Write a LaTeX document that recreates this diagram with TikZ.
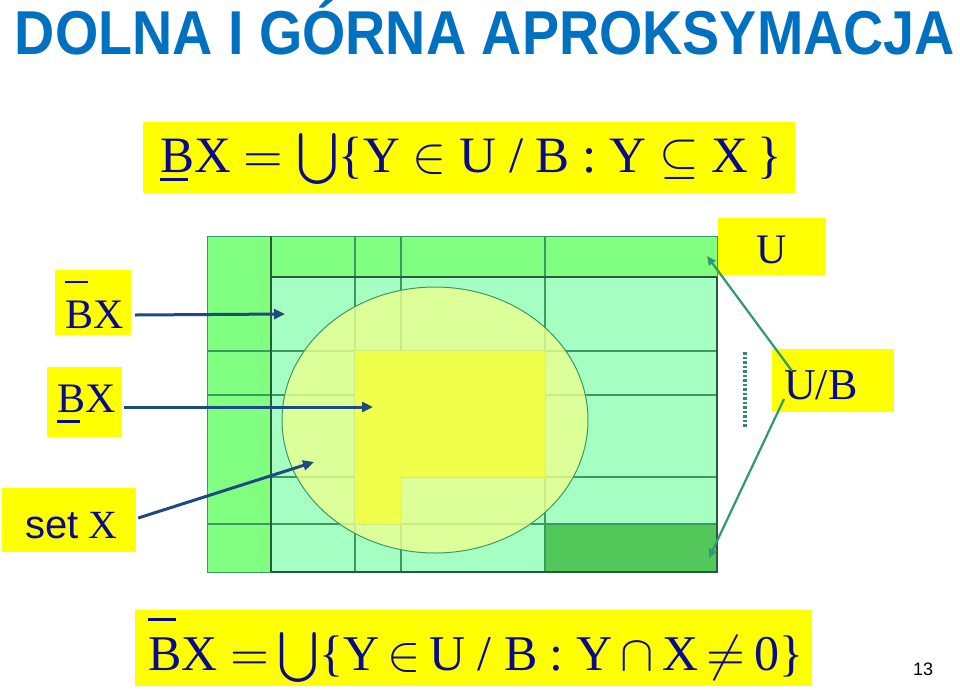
\documentclass[tikz,border=0pt]{standalone}
\usepackage{fontspec}
\setmainfont{Liberation Serif}
\newfontfamily\arialf{Liberation Sans}
\usepackage{graphicx}
\usetikzlibrary{arrows.meta}
\definecolor{navy}{HTML}{0A0A8C}
\definecolor{titleblue}{HTML}{0070C0}
\definecolor{arrblue}{HTML}{1F4A80}
\definecolor{arrgreen}{HTML}{2E9A6E}
\definecolor{ygl}{HTML}{FFFF00}
\definecolor{gbright}{HTML}{80FF80}
\definecolor{gmint}{HTML}{A5FFC2}
\definecolor{gdark}{HTML}{52C85A}
\definecolor{gline}{HTML}{3A9A60}
\definecolor{gborder}{HTML}{2A5A3A}
\definecolor{ellfill}{HTML}{EAFF90}
\definecolor{yelreg}{HTML}{F2FF45}
\definecolor{dotteal}{HTML}{2F8A7A}
\newcommand\myub[1]{\leavevmode\rlap{\raisebox{-#1}{\rule{0.55em}{0.06em}}}B}
\newcommand\myob[1]{\leavevmode\rlap{\raisebox{#1}{\rule{0.55em}{0.06em}}}B}
\newcommand\msym[2]{\scalebox{#1}{\fontsize{10}{12}\selectfont$#2$}}
\tikzset{
  ybox/.style={fill=ygl, draw=none, inner sep=0pt},
  ftext/.style={inner sep=0pt, anchor=base west, text=navy},
  barrow/.style={draw=arrblue, line width=3pt, -{Triangle[length=11pt,width=10pt]}},
  garrow/.style={draw=arrgreen, line width=2.2pt, -{Triangle[length=9pt,width=8pt]}},
  gridln/.style={draw=gline, line width=1.1pt},
}
\begin{document}
\begin{tikzpicture}[x=1pt,y=-1pt]
\useasboundingbox (0,0) rectangle (960,689);
% title
\node[inner sep=0pt, anchor=base, text=titleblue] (title) at (485,54)
  {\resizebox{940pt}{\height}{\fontsize{62}{66}\selectfont\arialf\bfseries DOLNA I GÓRNA APROKSYMACJA}};
% top formula
\node[ybox, minimum width=652pt, minimum height=71pt] (lowbox) at (469,157.5) {};
\node[ftext] (lowf) at (160,172) {\fontsize{51}{60}\selectfont \myub{0.17em}X \msym{5.1}{=} \msym{5.1}{\bigcup}\{Y \msym{5.1}{\in} U / B : Y \msym{5.1}{\subseteq} X\,\}};
% bottom formula
\node[ybox, minimum width=677pt, minimum height=76pt] (upbox) at (473.5,648) {};
\node[ftext] (upf) at (148,670) {\fontsize{50}{60}\selectfont \myob{0.98em}X \msym{5}{=}\,\msym{5}{\bigcup}\{Y\,\msym{5}{\in}\,U / B : Y\,\msym{5}{\cap}\,X\,\msym{5}{\neq}\,0\}};
% grid cells
\fill[gbright] (207,236) rectangle (717,277);
\fill[gbright] (207,236) rectangle (271,572);
\fill[gmint] (271,277) rectangle (717,572);
\fill[gdark] (545,524) rectangle (717,572);
% grid lines
\foreach \gx in {355,401,545} \draw[gridln] (\gx,236) -- (\gx,572);
\foreach \gy in {351,395,524} \draw[gridln] (207,\gy) -- (717,\gy);
\draw[gridln] (271,477) -- (717,477);
\draw[gline, line width=1pt] (207,236) rectangle (717,572);
\draw[gborder, line width=1.3pt] (271,236) -- (271,572);
\draw[gborder, line width=1.6pt] (271,277) -- (717,277);
\draw[gborder, line width=1.6pt] (717,277) -- (717,572) -- (271,572);
% set X ellipse and lower approximation
\fill[ellfill, opacity=0.82] (435,420) ellipse [x radius=153pt, y radius=133pt];
\fill[yelreg, opacity=0.95] (355,351) -- (545,351) -- (545,477) -- (401,477) -- (401,524) -- (355,524) -- cycle;
\draw[gline, line width=1pt] (435,420) ellipse [x radius=153pt, y radius=133pt];
% dotted marker
\draw[dotteal, line width=3.2pt, dash pattern=on 2.5pt off 2pt] (745,352) -- (745,428);
% left labels
\node[ybox, minimum width=76pt, minimum height=65pt] (obx) at (93,302.5) {};
\node[ftext] (obxt) at (65,328) {\fontsize{42}{50}\selectfont \myob{1.07em}X};
\node[ybox, minimum width=75pt, minimum height=70pt] (ubx) at (84.5,402) {};
\node[ftext] (ubxt) at (57,412) {\fontsize{42}{50}\selectfont \myub{0.26em}X};
\node[ybox, minimum width=134pt, minimum height=64pt] (setx) at (69,520) {};
\node[ftext] (setxt) at (25,538) {\fontsize{40}{50}\selectfont {\arialf set} X};
% right labels
\node[ybox, minimum width=108pt, minimum height=57pt] (ulab) at (772,246.5) {};
\node[inner sep=0pt, anchor=base, text=navy] (ulabt) at (772,263) {\fontsize{42}{50}\selectfont U};
\node[ybox, minimum width=122pt, minimum height=63pt] (ublab) at (833,380.5) {};
\node[ftext] (ublabt) at (784,399) {\fontsize{44}{50}\selectfont U/B};
% targets
\coordinate (ta) at (285,314);
\coordinate (tb) at (373,407);
\coordinate (tc) at (314,462);
\coordinate (tu) at (707,256);
\coordinate (tub) at (709,558);
\coordinate (sa) at (792,371);
\coordinate (sb) at (784,399);
% arrows
\draw[barrow] (obx.east |- ta) ++(4,1) -- (ta);
\draw[barrow] (ubx.east |- tb) ++(2,0) -- (tb);
\draw[barrow] (setx.east) ++(2,-2) -- (tc);
\draw[garrow] (sa) -- (tu);
\draw[garrow] (sb) -- (tub);
% page number
\node[inner sep=0pt, anchor=base, text=black] (pnum) at (923,675) {\fontsize{18}{20}\selectfont\arialf 13};
\end{tikzpicture}
\end{document}
